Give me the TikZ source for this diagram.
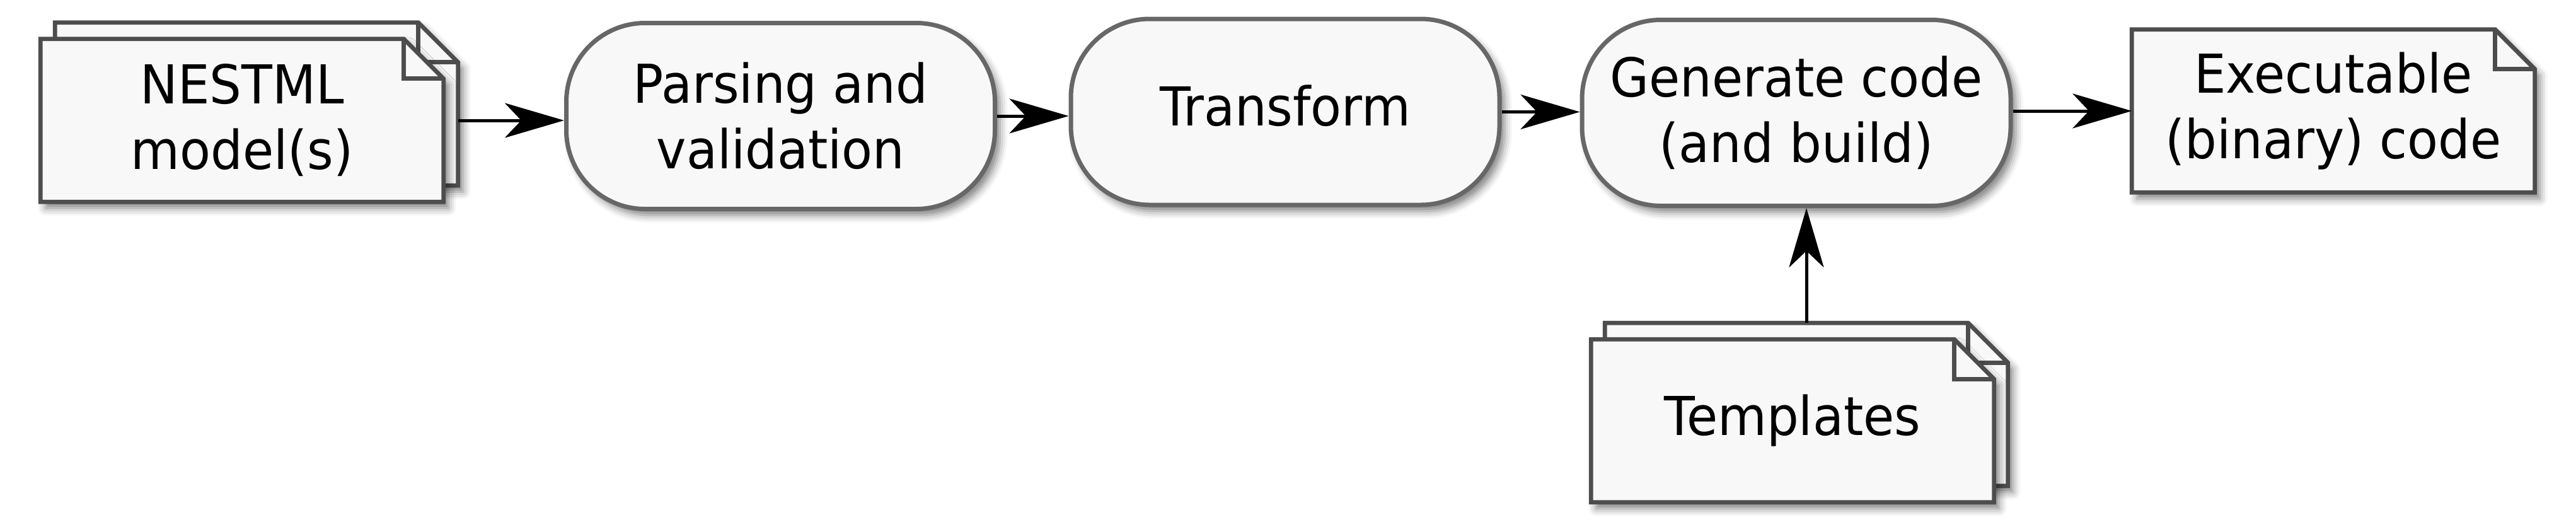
\documentclass[tikz,border=0pt]{standalone}
\usepackage{fontspec}
\setmainfont{DejaVu Sans}[FakeStretch=0.94]
\usetikzlibrary{arrows.meta,shadows.blur,backgrounds}

\definecolor{paper}{HTML}{F8F8F8}
\definecolor{pageline}{HTML}{4D4D4D}
\definecolor{boxline}{HTML}{676767}

\newcommand{\pagefold}{0.63cm}

\tikzset{
    every node/.style={font=\fontsize{24.2}{29.6}\selectfont, text=black},
    softshadow/.style={blur shadow={shadow xshift=0.08cm, shadow yshift=-0.1cm,
        shadow blur radius=0.12cm, shadow opacity=50}},
    procbox/.style={rectangle, rounded corners=1.25cm, draw=boxline, line width=0.07cm,
        fill=paper, minimum width=6.8cm, minimum height=2.95cm, align=center, softshadow},
    docnode/.style={rectangle, minimum width=6.38cm, minimum height=2.57cm,
        inner sep=0pt, align=center},
    pageshape/.style={draw=pageline, line width=0.068cm, fill=paper, softshadow},
    foldline/.style={draw=pageline, line width=0.068cm},
    flow/.style={-{Stealth[length=0.94cm, width=0.55cm, inset=0.26cm]}, line width=0.05cm, black}
}

% outline of a page with a folded corner, drawn round node #1
\newcommand{\docpage}[1]{%
    \path[pageshape] (#1.south west) -- (#1.north west) -- ([xshift=-\pagefold]#1.north east)
        -- ([yshift=-\pagefold]#1.north east) -- (#1.south east) -- cycle;
    \path[foldline] ([xshift=-\pagefold]#1.north east) |- ([yshift=-\pagefold]#1.north east);
}

\begin{document}
\begin{tikzpicture}
        \useasboundingbox (0,0) rectangle (40.87,8.27);

        % documents
        \node[docnode] (nestmlback) at (4.07,6.62) {};
        \node[docnode] (nestml) at (3.84,6.36) {NESTML\\model(s)};
        \node[docnode] (exe) at (37.02,6.51) {Executable\\(binary) code};
        \node[docnode] (tplback) at (28.66,1.855) {};
        \node[docnode] (tpl) at (28.44,1.595) {Templates};

        % processing steps
        \node[procbox] (parse) at (12.385,6.43) {Parsing and\\validation};
        \node[procbox, text depth=0.2cm] (transform) at (20.39,6.495) {Transform};
        \node[procbox] (gen) at (28.50,6.48) {Generate code\\(and build)};

        \begin{scope}[on background layer]
            \docpage{nestmlback}
            \docpage{nestml}
            \docpage{exe}
            \docpage{tplback}
            \docpage{tpl}
        \end{scope}

        \draw[flow] (nestml -| nestmlback.east) -- (nestml -| parse.west);
        \draw[flow] (parse.east) -- (parse.east -| transform.west);
        \draw[flow] (transform.east) -- (transform.east -| gen.west);
        \draw[flow] (gen.east |- exe) -- (exe.west);
        \draw[flow] (tplback.north) -- (tplback.north |- gen.south);
    \end{tikzpicture}
\end{document}
